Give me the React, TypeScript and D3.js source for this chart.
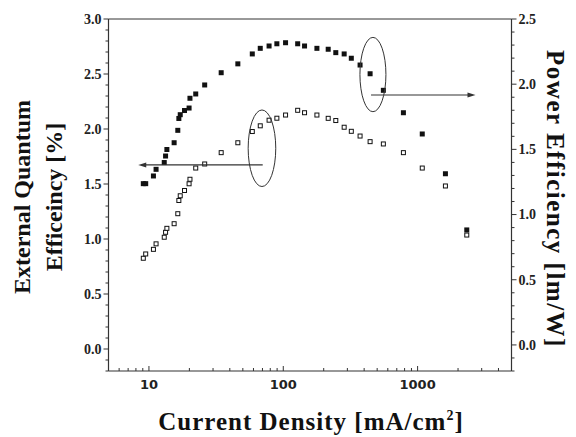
import React from "react";
import * as d3 from "d3";

const currentDensity = [9.08, 9.46, 10.8, 11.3, 13.0, 13.3, 13.6, 15.4, 16.4, 16.7, 17.1, 18.4, 19.9, 20.2, 22.3, 26.0, 34.5, 45.9, 58.8, 67.4, 78.4, 89.6, 104, 128, 144, 178, 216, 246, 284, 321, 373, 443, 556, 784, 1083, 1611, 2323];
const powerEff = [1.237, 1.237, 1.296, 1.347, 1.399, 1.449, 1.499, 1.551, 1.646, 1.737, 1.766, 1.798, 1.817, 1.892, 1.925, 1.994, 2.088, 2.156, 2.232, 2.275, 2.293, 2.31, 2.318, 2.31, 2.293, 2.275, 2.268, 2.242, 2.232, 2.199, 2.147, 2.08, 1.953, 1.781, 1.618, 1.313, 0.882];
const eqe = [0.825, 0.864, 0.906, 0.956, 1.016, 1.061, 1.097, 1.139, 1.23, 1.35, 1.393, 1.441, 1.502, 1.543, 1.645, 1.682, 1.785, 1.875, 1.977, 2.029, 2.08, 2.098, 2.127, 2.17, 2.148, 2.127, 2.097, 2.077, 2.016, 1.979, 1.936, 1.885, 1.864, 1.785, 1.645, 1.482, 1.036];

const xTicks = [10, 100, 1000];
const leftTicks = [0.0, 0.5, 1.0, 1.5, 2.0, 2.5, 3.0];
const rightTicks = [0.0, 0.5, 1.0, 1.5, 2.0, 2.5];

const W = 576, H = 437;
const L = 108.5, R = 511.5, T = 19, B = 371;

export default function App() {
  const x = d3.scaleLog().domain([5, 5000]).range([L, R]);
  const yL = d3.scaleLinear().domain([-0.2, 3.0]).range([B, T]);
  const yR = d3.scaleLinear().domain([-0.2, 2.5]).range([B, T]);
  const axisCol = "#333";
  const serif = "'Liberation Serif', 'Times New Roman', serif";

  const xMinor: number[] = [];
  [1, 10, 100, 1000].forEach((d) => {
    for (let k = 1; k <= 9; k++) {
      const v = d * k;
      if (v >= 5 && v <= 5000 && k !== 1) xMinor.push(v);
    }
  });
  const lMinor = d3.range(-2, 31).map((i) => i / 10);
  const rMinor = d3.range(-2, 26).map((i) => i / 10);

  const sFill = 5, sOpen = 4;

  // annotations in data coordinates
  const ell1 = { cx: x(69.4), cy: yL(1.825), rx: 13.8, ry: yL(1.825) - yL(2.173) };
  const ell2 = { cx: x(465), cy: yR(2.074), rx: 13, ry: yR(2.074) - yR(2.359) };
  const arrL = { x1: x(70.3), x2: x(8.33), y: yL(1.673) };
  const arrR = { x1: x(450), x2: x(2698), y: yR(1.917) };

  return (
    <svg width={W} height={H} style={{ position: "absolute", left: 0, top: 0, background: "#fff" }}>
      <rect x={0} y={0} width={W} height={H} fill="#fff" />
      {/* frame */}
      <line x1={L} x2={R} y1={T} y2={T} stroke={axisCol} strokeWidth={1} />
      <line x1={L} x2={R} y1={B} y2={B} stroke={axisCol} strokeWidth={1.2} />
      <line x1={L} x2={L} y1={T} y2={B} stroke={axisCol} strokeWidth={1.2} />
      <line x1={R} x2={R} y1={T} y2={B} stroke={axisCol} strokeWidth={1.2} />

      {/* left ticks */}
      {lMinor.map((v) => {
        const major = Math.abs(v * 2 - Math.round(v * 2)) < 1e-6;
        return <line key={"lm" + v} x1={L} x2={L - (major ? 5 : 3)} y1={yL(v)} y2={yL(v)} stroke={axisCol} strokeWidth={1} />;
      })}
      {leftTicks.map((v) => (
        <text key={"lt" + v} x={L - 7} y={yL(v)} dy="0.35em" textAnchor="end" fontFamily={serif} fontWeight="bold" fontSize={14} fill="#222">
          {v.toFixed(1)}
        </text>
      ))}

      {/* right ticks */}
      {rMinor.map((v) => {
        const major = Math.abs(v * 2 - Math.round(v * 2)) < 1e-6;
        return <line key={"rm" + v} x1={R} x2={R + (major ? 5 : 3)} y1={yR(v)} y2={yR(v)} stroke={axisCol} strokeWidth={1} />;
      })}
      {rightTicks.map((v) => (
        <text key={"rt" + v} x={R + 7} y={yR(v)} dy="0.35em" textAnchor="start" fontFamily={serif} fontWeight="bold" fontSize={14} fill="#222">
          {v.toFixed(1)}
        </text>
      ))}

      {/* bottom ticks */}
      {xMinor.map((v) => (
        <line key={"xm" + v} x1={x(v)} x2={x(v)} y1={B} y2={B - 3} stroke={axisCol} strokeWidth={1} />
      ))}
      {xTicks.map((v) => (
        <g key={"xt" + v}>
          <line x1={x(v)} x2={x(v)} y1={B} y2={B - 5} stroke={axisCol} strokeWidth={1} />
          <text x={x(v)} y={389} textAnchor="middle" fontFamily="'DejaVu Sans', sans-serif" fontWeight="bold" fontSize={13} fill="#222">
            {v}
          </text>
        </g>
      ))}

      {/* data: filled squares = power efficiency (right axis) */}
      {currentDensity.map((c, i) => (
        <rect key={"f" + i} x={x(c) - sFill / 2} y={yR(powerEff[i]) - sFill / 2} width={sFill} height={sFill} fill="#111" />
      ))}
      {/* open squares = EQE (left axis) */}
      {currentDensity.map((c, i) => (
        <rect key={"o" + i} x={x(c) - sOpen / 2} y={yL(eqe[i]) - sOpen / 2} width={sOpen} height={sOpen} fill="#fff" stroke="#111" strokeWidth={1} />
      ))}

      {/* annotations */}
      <ellipse cx={ell1.cx} cy={ell1.cy} rx={ell1.rx} ry={ell1.ry} fill="none" stroke="#333" strokeWidth={1} />
      <ellipse cx={ell2.cx} cy={ell2.cy} rx={ell2.rx} ry={ell2.ry} fill="none" stroke="#333" strokeWidth={1} />
      <line x1={arrL.x1} x2={arrL.x2 + 6} y1={arrL.y} y2={arrL.y} stroke="#333" strokeWidth={1.2} />
      <path d={`M${arrL.x2},${arrL.y} L${arrL.x2 + 8},${arrL.y - 2.5} L${arrL.x2 + 8},${arrL.y + 2.5} Z`} fill="#333" />
      <line x1={arrR.x1} x2={arrR.x2 - 6} y1={arrR.y} y2={arrR.y} stroke="#333" strokeWidth={1.2} />
      <path d={`M${arrR.x2},${arrR.y} L${arrR.x2 - 8},${arrR.y - 2.5} L${arrR.x2 - 8},${arrR.y + 2.5} Z`} fill="#333" />

      {/* axis titles */}
      <text transform="translate(30,197) rotate(-90)" textAnchor="middle" fontFamily={serif} fontWeight="bold" fontSize={24} fill="#111">
        External Quantum
      </text>
      <text transform="translate(62,197) rotate(-90)" textAnchor="middle" fontFamily={serif} fontWeight="bold" fontSize={24} fill="#111">
        Efficeincy [%]
      </text>
      <text transform="translate(547,199) rotate(90)" textAnchor="middle" fontFamily={serif} fontWeight="bold" fontSize={25} letterSpacing={1.5} fill="#111">
        Power Efficiency [lm/W]
      </text>
      <text x={311} y={430} textAnchor="middle" fontFamily={serif} fontWeight="bold" fontSize={25} letterSpacing={1} fill="#111">
        Current Density [mA/cm<tspan dy={-10} fontSize={14}>2</tspan><tspan dy={10}>]</tspan>
      </text>
    </svg>
  );
}
